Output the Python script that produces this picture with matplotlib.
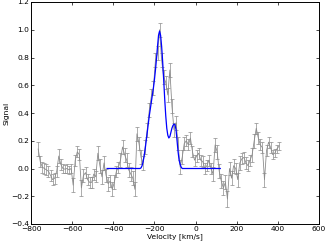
import numpy as np
import matplotlib
matplotlib.use("Agg")
import matplotlib.pyplot as plt

# Observed spectrum (channel velocities in km/s, 10 km/s channels)
velocity = np.arange(-765, 406, 10)
signal = [
    0.14, 0.05, 0.01, 0.00, -0.01, -0.02, -0.05, -0.08, -0.07, -0.02,
    0.09, 0.03, 0.00, -0.005, 0.00, -0.01, 0.00, -0.12, 0.06, 0.12,
    0.10, -0.14, -0.05, -0.03, -0.08, -0.10, -0.10, -0.04, -0.06, 0.11,
    0.02, -0.06, 0.04, -0.05, -0.11, -0.09, -0.15, -0.10, -0.02, 0.01,
    0.06, 0.155, 0.10, 0.06, -0.01, -0.04, -0.07, -0.15, 0.25, 0.18,
    0.08, 0.04, 0.155, 0.28, 0.42, 0.52, 0.58, 0.78, 0.83, 1.00,
    0.78, 0.66, 0.62, 0.53, 0.71, 0.45, 0.28, 0.33, 0.18, 0.01,
    0.08, 0.18, 0.20, 0.17, 0.22, 0.12, 0.06, 0.09, 0.11, 0.06,
    0.05, 0.00, 0.02, 0.06, 0.00, -0.04, 0.17, 0.12, -0.02, -0.09,
    -0.14, -0.10, -0.22, 0.00, -0.07, 0.02, 0.00, -0.08, 0.04, 0.07,
    0.08, 0.04, 0.02, 0.06, 0.10, 0.20, 0.29, 0.22, 0.17, 0.15,
    -0.08, 0.13, 0.19, 0.15, 0.10, 0.11, 0.14, 0.16,
]
error = [
    0.05, 0.04, 0.04, 0.04, 0.04, 0.04, 0.04, 0.04, 0.04, 0.04,
    0.05, 0.04, 0.03, 0.03, 0.03, 0.03, 0.03, 0.05, 0.04, 0.04,
    0.04, 0.06, 0.05, 0.04, 0.04, 0.04, 0.04, 0.04, 0.04, 0.05,
    0.05, 0.05, 0.05, 0.05, 0.05, 0.04, 0.05, 0.05, 0.04, 0.04,
    0.05, 0.05, 0.05, 0.05, 0.05, 0.05, 0.05, 0.05, 0.05, 0.05,
    0.05, 0.05, 0.05, 0.05, 0.05, 0.05, 0.05, 0.05, 0.05, 0.05,
    0.05, 0.05, 0.05, 0.05, 0.05, 0.05, 0.05, 0.05, 0.05, 0.05,
    0.05, 0.05, 0.04, 0.04, 0.04, 0.04, 0.04, 0.04, 0.04, 0.04,
    0.04, 0.04, 0.04, 0.04, 0.04, 0.05, 0.05, 0.05, 0.05, 0.05,
    0.05, 0.05, 0.06, 0.05, 0.05, 0.05, 0.04, 0.05, 0.05, 0.04,
    0.04, 0.04, 0.04, 0.04, 0.05, 0.05, 0.04, 0.04, 0.04, 0.04,
    0.05, 0.04, 0.04, 0.04, 0.03, 0.03, 0.03, 0.03,
]

# Model fit (blue line)
model_v = [-430, -270, -265, -260, -255, -250, -245, -240, -235, -230, -225,
           -220, -215, -210, -205, -200, -195, -190, -185, -180, -175, -170,
           -165, -160, -155, -150, -145, -140, -135, -130, -125, -120, -115,
           -110, -105, -100, -95, -90, -85, -80, -75, -70, -65, -60, 120]
model_s = [0.0, 0.0, 0.005, 0.02, 0.05, 0.09, 0.14, 0.2, 0.26, 0.32, 0.38,
           0.43, 0.48, 0.53, 0.58, 0.64, 0.71, 0.79, 0.88, 0.96, 0.99, 0.96,
           0.88, 0.77, 0.64, 0.50, 0.38, 0.29, 0.24, 0.22, 0.23, 0.26, 0.29,
           0.31, 0.32, 0.315, 0.28, 0.20, 0.12, 0.06, 0.03, 0.01, 0.0, 0.0, 0.0]

xticks = [-800, -600, -400, -200, 0, 200, 400, 600]
yticks = [-0.4, -0.2, 0.0, 0.2, 0.4, 0.6, 0.8, 1.0, 1.2]

fs = 5.4
fig = plt.figure(figsize=(3.27, 2.44), dpi=100)
ax = fig.add_axes([31/327, 1 - 224/244, 288/327, 222/244])

ax.errorbar(velocity, signal, yerr=error, color='0.55', lw=0.6,
            elinewidth=0.5, capsize=1.2, capthick=0.5, zorder=2)
ax.plot(model_v, model_s, color='#0000ff', lw=0.9, zorder=3)

ax.set_xlim(-800, 600)
ax.set_ylim(-0.4, 1.2)
ax.set_xticks(xticks)
ax.set_yticks(yticks)
ax.set_yticklabels(["%.1f" % t if t >= 0 else "\u2212%.1f" % -t for t in yticks])
ax.tick_params(direction='in', top=True, right=True, labelsize=fs,
               length=2, width=0.5, pad=1.5)
for s in ax.spines.values():
    s.set_linewidth(0.7)
ax.set_xlabel("Velocity [km/s]", fontsize=fs, labelpad=0.5)
ax.set_ylabel("Signal", fontsize=fs, labelpad=1)

fig.savefig("out.png", dpi=100, facecolor='white')
